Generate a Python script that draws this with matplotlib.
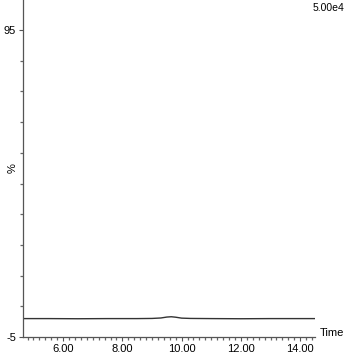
import matplotlib.pyplot as plt
from matplotlib.ticker import MultipleLocator, FixedLocator

plt.rcParams['font.family'] = ['Liberation Sans', 'DejaVu Sans']

# chromatogram trace (time in min, intensity in %)
tempo = [4.65, 5.5, 6.5, 7.5, 8.5, 9.0, 9.3, 9.5, 9.65, 9.8, 10.0, 10.3, 11.0, 12.0, 13.0, 14.0, 14.5]
intensidade = [1.0, 1.0, 0.95, 1.0, 1.0, 1.05, 1.2, 1.5, 1.6, 1.45, 1.15, 1.05, 1.0, 0.95, 1.0, 1.0, 1.0]

y_labels = [95, -5]
y_minor = [5, 15, 25, 35, 45, 55, 65, 75, 85]
x_labels = [6, 8, 10, 12, 14]

fig = plt.figure(figsize=(3.5, 3.54), dpi=100)
ax = fig.add_axes([0.066, 0.048, 0.834, 0.952])

ax.plot(tempo, intensidade, color="#333333", lw=1.0)

ax.set_xlim(4.65, 14.5)
ax.set_ylim(-5, 104.8)

for s in ["top", "right"]:
    ax.spines[s].set_visible(False)
for s in ["left", "bottom"]:
    ax.spines[s].set_color("#555555")
    ax.spines[s].set_linewidth(0.9)

ax.yaxis.set_major_locator(FixedLocator(y_labels))
ax.set_yticklabels([str(v) for v in y_labels])
ax.yaxis.set_minor_locator(FixedLocator(y_minor))
ax.xaxis.set_major_locator(FixedLocator(x_labels))
ax.set_xticklabels(["%.2f" % v for v in x_labels])
ax.xaxis.set_minor_locator(MultipleLocator(0.2))

ax.tick_params(axis="both", which="major", labelsize=8, length=3, color="#555555", pad=2)
ax.tick_params(axis="both", which="minor", length=2.5, width=0.9, color="#666666")

ax.text(-0.02, 0.5, "%", transform=ax.transAxes, rotation=90, ha="right", va="center", fontsize=8)
ax.text(1.015, 0.012, "Time", transform=ax.transAxes, ha="left", va="center", fontsize=8)
ax.text(1.045, 0.99, "5.00e4", transform=ax.transAxes, ha="center", va="top", fontsize=7.5)

fig.savefig("out.png", dpi=100)
